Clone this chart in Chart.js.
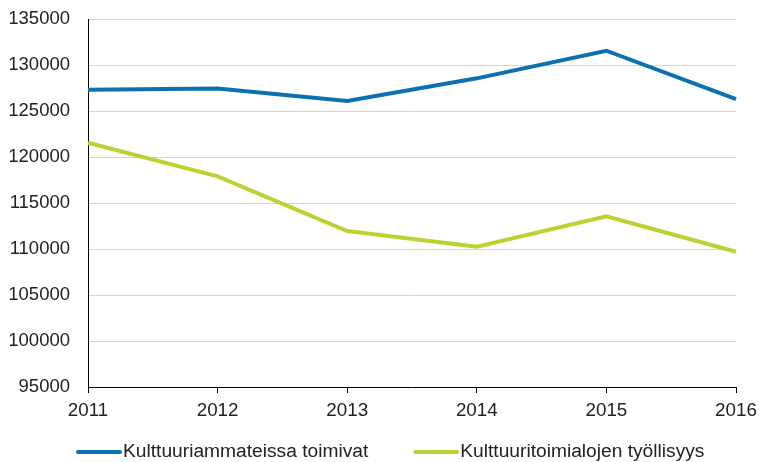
<!DOCTYPE html>
<html>
<head>
<meta charset="utf-8">
<script src="https://cdn.jsdelivr.net/npm/chart.js@4"></script>
<style>
  html, body { margin: 0; padding: 0; background: #fff; }
  #wrap { width: 759px; height: 462px; }
</style>
</head>
<body>
<div id="wrap"><canvas id="chart"></canvas></div>
<script>
const years = ['2011', '2012', '2013', '2014', '2015', '2016'];
const occupations = [127300, 127450, 126100, 128550, 131550, 126300];
const industries = [121550, 117900, 111950, 110250, 113550, 109700];
const yMin = 95000;
const yMax = 135000;
const yStep = 5000;

const ctx = document.getElementById('chart').getContext('2d');

// legend drawn by hand so the spacing can match the original
const bottomLegend = {
  id: 'bottomLegend',
  afterDraw(chart) {
    const c = chart.ctx;
    const y = 452;
    let x = 76;
    c.save();
    c.font = '19.2px "Liberation Sans"';
    c.textBaseline = 'middle';
    c.textAlign = 'left';
    chart.data.datasets.forEach(ds => {
      c.strokeStyle = ds.borderColor;
      c.lineWidth = 4;
      c.lineCap = 'round';
      c.beginPath();
      c.moveTo(x + 2, y);
      c.lineTo(x + 44, y);
      c.stroke();
      c.fillStyle = '#222';
      c.fillText(ds.label, x + 47, y);
      x += 47 + c.measureText(ds.label).width + 45;
    });
    c.restore();
  }
};

new Chart(ctx, {
  type: 'line',
  data: {
    labels: years,
    datasets: [{
      label: 'Kulttuuriammateissa toimivat',
      data: occupations,
      borderColor: '#0a72b0',
      backgroundColor: '#0a72b0',
      borderWidth: 4,
      pointRadius: 0,
      tension: 0
    }, {
      label: 'Kulttuuritoimialojen työllisyys',
      data: industries,
      borderColor: '#b8d432',
      backgroundColor: '#b8d432',
      borderWidth: 4,
      pointRadius: 0,
      tension: 0
    }]
  },
  options: {
    responsive: true,
    maintainAspectRatio: false,
    animation: false,
    layout: { padding: { top: 19, left: 10, right: 0, bottom: 35 } },
    plugins: {
      tooltip: { enabled: false },
      legend: { display: false }
    },
    scales: {
      x: {
        offset: false,
        border: { color: '#000', width: 1 },
        grid: { display: true, drawOnChartArea: false, tickLength: 6, color: '#000' },
        afterFit: scale => {
          scale.height = 40;
          scale.paddingLeft = 0;
          scale.paddingRight = 23;
        },
        ticks: {
          color: '#222',
          font: { family: 'Liberation Sans', size: 18.8 },
          padding: 7,
          maxRotation: 0
        }
      },
      y: {
        min: yMin,
        max: yMax,
        border: { color: '#000', width: 1 },
        grid: { color: '#d4d4d4', tickLength: 0, lineWidth: 1 },
        afterFit: scale => {
          scale.width = 78;
          scale.paddingTop = 0;
          scale.paddingBottom = 0;
        },
        ticks: {
          stepSize: yStep,
          color: '#222',
          font: { family: 'Liberation Sans', size: 18.5 },
          padding: 18,
          callback: value => String(value)
        }
      }
    }
  },
  plugins: [bottomLegend]
});
</script>
</body>
</html>
